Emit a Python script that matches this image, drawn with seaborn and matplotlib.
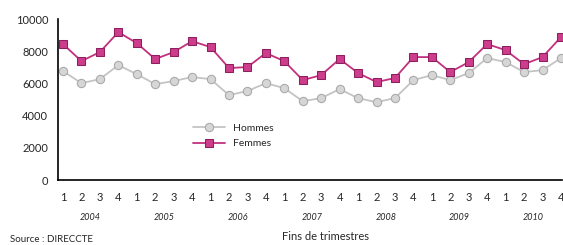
import matplotlib
matplotlib.use("Agg")
import matplotlib.pyplot as plt
import matplotlib.transforms as mtransforms
import numpy as np
import pandas as pd
import seaborn as sns

# quarterly data 2004 Q1 - 2010 Q4
years = ["2004", "2005", "2006", "2007", "2008", "2009", "2010"]
quarters = ["1", "2", "3", "4"]
hommes = [6770, 6020, 6270, 7140, 6580, 5960, 6150, 6400,
          6270, 5280, 5530, 6020, 5710, 4900, 5090, 5650,
          5090, 4840, 5090, 6210, 6520, 6210, 6650, 7580,
          7330, 6710, 6830, 7580]
femmes = [8450, 7390, 7950, 9190, 8510, 7520, 7950, 8630,
          8260, 6960, 7020, 7890, 7390, 6210, 6520, 7520,
          6650, 6090, 6340, 7640, 7640, 6710, 7330, 8450,
          8070, 7200, 7640, 8880]

n = len(hommes)
idx = np.arange(n)
df = pd.DataFrame({"t": np.concatenate([idx, idx]),
                   "val": hommes + femmes,
                   "serie": ["Hommes"] * n + ["Femmes"] * n})

sns.set_theme(style="white")
plt.rcParams["font.family"] = ["Lato", "DejaVu Sans"]

fig = plt.figure(figsize=(5.63, 2.45), dpi=100)
ax = fig.add_axes([0.103, 0.265, 0.895, 0.657])

sns.lineplot(data=df, x="t", y="val", hue="serie", style="serie",
             palette={"Hommes": "#c4c4c4", "Femmes": "#c2307e"},
             markers={"Hommes": "o", "Femmes": "s"}, dashes=False,
             markersize=6, linewidth=1.3, ax=ax, legend=True)

# marker fill / edge colours
for l in ax.get_lines():
    if l.get_color() == "#c4c4c4":
        l.set_markerfacecolor("#d6d6d6")
        l.set_markeredgecolor("#a8a8a8")
    else:
        l.set_markerfacecolor("#cc3d8c")
        l.set_markeredgecolor("#8e1f5c")

ax.set_xlim(-0.27, 27.05)
ax.set_ylim(0, 10000)
ax.set_yticks([0, 2000, 4000, 6000, 8000, 10000])
ax.set_yticklabels(["0", "2000", "4000", "6000", "8000", "10000"], fontsize=8)
ax.set_xticks(idx)
ax.set_xticklabels(quarters * len(years), fontsize=8)
ax.tick_params(axis="x", direction="inout", length=5, width=1, pad=6, color="black")
ax.tick_params(axis="y", direction="out", length=4, width=1, pad=3, color="black")
for s in ["top", "right"]:
    ax.spines[s].set_visible(False)
for s in ["left", "bottom"]:
    ax.spines[s].set_color("black")
    ax.spines[s].set_linewidth(1.2)
ax.set_xlabel("")
ax.set_ylabel("")

# year labels under the quarters
trans = mtransforms.blended_transform_factory(ax.transData, fig.transFigure)
for k, y in enumerate(years):
    ax.text(4 * k + 1.5, 1 - 217 / 245, y, transform=trans, fontsize=6.5,
            style="italic", ha="center", va="center")

fig.text(325 / 563, 1 - 236 / 245, "Fins de trimestres", fontsize=8,
         ha="center", va="center")
fig.text(10 / 563, 1 - 239 / 245, "Source : DIRECCTE", fontsize=7,
         ha="left", va="center")

leg = ax.legend(loc="upper left", bbox_to_anchor=(0.25, 0.41), frameon=False,
                fontsize=7.5, handlelength=3, labelspacing=0.6)
leg.legend_handles[0].set_markerfacecolor("#d6d6d6")
leg.legend_handles[0].set_markeredgecolor("#a8a8a8")
leg.legend_handles[1].set_markerfacecolor("#cc3d8c")
leg.legend_handles[1].set_markeredgecolor("#8e1f5c")

fig.savefig("out.png", dpi=100)
plt.close(fig)
